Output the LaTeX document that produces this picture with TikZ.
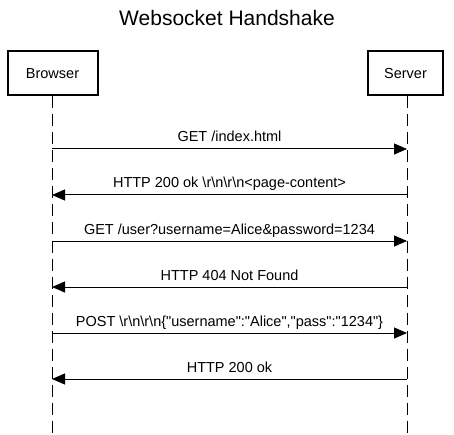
\documentclass[tikz,border=0pt]{standalone}
\usepackage{fontspec}
\setmainfont{Liberation Sans}
\usetikzlibrary{arrows.meta}
\newcommand\dq{\textquotedbl}
\begin{document}
\begin{tikzpicture}[x=1pt,y=-1pt,
  actor/.style={draw,line width=2pt,minimum height=44pt,inner sep=0pt,font=\fontsize{14.5}{17}\selectfont},
  life/.style={line width=1pt,dash pattern=on 12pt off 6pt},
  msg/.style={line width=1pt,-{Triangle[length=13pt,width=11pt]}},
  lbl/.style={anchor=base,inner sep=0pt,yshift=7pt,font=\fontsize{14.5}{17}\selectfont}]
\useasboundingbox (0,0) rectangle (454,435);
\node[font=\fontsize{21}{25}\selectfont,anchor=base] (title) at (227,26) {Websocket Handshake};
\node[actor,minimum width=90pt] (browser) at (52.5,73.5) {Browser};
\node[actor,minimum width=75pt] (server) at (405.5,73.5) {Server};
\coordinate (bend) at (52,435);
\coordinate (send) at (407,435);
\draw[life] (browser.south -| bend) -- (bend);
\draw[life] (server.south -| send) -- (send);
\foreach \i/\y in {1/149,2/195,3/241,4/287,5/333,6/379}{
  \coordinate (b\i) at (52,\y);
  \coordinate (s\i) at (407,\y);
}
\draw[msg] (b1) -- node[lbl] (m1) {GET /index.html} (s1);
\draw[msg] (s2) -- node[lbl] (m2) {HTTP 200 ok \string\r\string\n\string\r\string\n{<}page-content{>}} (b2);
\draw[msg] (b3) -- node[lbl] (m3) {GET /user?username=Alice\&password=1234} (s3);
\draw[msg] (s4) -- node[lbl] (m4) {HTTP 404 Not Found} (b4);
\draw[msg] (b5) -- node[lbl] (m5) {POST \string\r\string\n\string\r\string\n\{\dq username\dq:\dq Alice\dq,\dq pass\dq:\dq 1234\dq\}} (s5);
\draw[msg] (s6) -- node[lbl] (m6) {HTTP 200 ok} (b6);
\end{tikzpicture}
\end{document}
